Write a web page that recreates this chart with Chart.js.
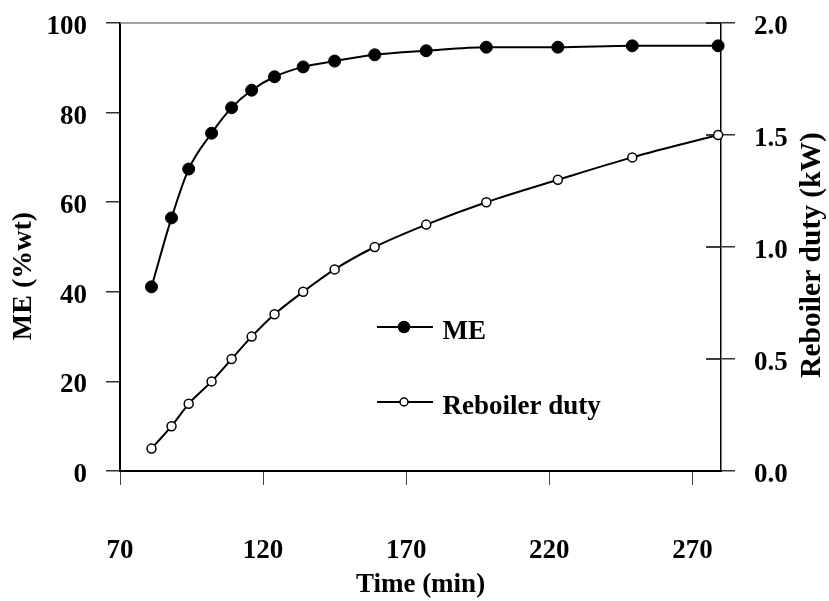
<!DOCTYPE html>
<html><head><meta charset="utf-8">
<script src="https://cdn.jsdelivr.net/npm/chart.js@4.4.1/dist/chart.umd.min.js"></script>
<style>html,body{margin:0;padding:0;background:#fff;}#wrap{width:829px;height:601px;position:relative;}</style>
</head><body><div id="wrap"><canvas id="c"></canvas></div>
<script>
const timeMin = [81, 88, 94, 102, 109, 116, 124, 134, 145, 159, 177, 198, 223, 249, 279];
const meWt = [41.1, 56.5, 67.4, 75.4, 81.1, 85.0, 88.0, 90.2, 91.5, 92.9, 93.8, 94.6, 94.6, 94.9, 94.9];
const reboilerDutyKW = [0.1, 0.2, 0.3, 0.4, 0.5, 0.6, 0.7, 0.8, 0.9, 1.0, 1.1, 1.2, 1.3, 1.4, 1.5];
const xTickValues = [70, 120, 170, 220, 270];
const seriesLabels = ['ME', 'Reboiler duty'];
const xTitle = 'Time (min)';
const yLeftTitle = 'ME (%wt)';
const yRightTitle = 'Reboiler duty (kW)';

const FONT = '"Liberation Serif", "Times New Roman", serif';
const tickFont = {family: FONT, size: 27, weight: 'bold'};
const titleFont = {family: FONT, size: 27, weight: 'bold'};

function legendIcon(filled) {
  const c = document.createElement('canvas');
  c.width = 56; c.height = 27;
  const g = c.getContext('2d');
  g.strokeStyle = '#000'; g.lineWidth = 2;
  g.beginPath(); g.moveTo(0, 8); g.lineTo(56, 8); g.stroke();
  g.beginPath(); g.arc(27, 8, filled ? 5.5 : 4, 0, Math.PI * 2);
  g.fillStyle = filled ? '#000' : '#fff'; g.fill();
  g.lineWidth = 1.5; g.stroke();
  return c;
}
const icons = [legendIcon(true), legendIcon(false)];

const points = (ys) => timeMin.map((t, i) => ({x: t, y: ys[i]}));
const noPad = (s) => { s.paddingTop = 0; s.paddingBottom = 0; s.paddingLeft = 0; s.paddingRight = 0; };

function drawVerticalTitle(ctx, text, cx, cy, size) {
  ctx.save();
  ctx.fillStyle = '#000';
  ctx.font = 'bold ' + size + 'px ' + FONT;
  ctx.textAlign = 'center'; ctx.textBaseline = 'middle';
  ctx.translate(cx, cy);
  ctx.rotate(-Math.PI / 2);
  ctx.fillText(text, 0, 0);
  ctx.restore();
}

const framePlugin = {
  id: 'frame',
  afterLayout(chart) {
    const lg = chart.legend, a = chart.chartArea;
    if (!lg) return;
    const w = lg.width, h = lg.height;
    lg.left = a.left + 213; lg.right = lg.left + w;
    lg.top = a.top + 248; lg.bottom = lg.top + h;
  },
  beforeDatasetsDraw(chart) {
    const {ctx, chartArea: a} = chart;
    const y2 = chart.scales.y2;
    ctx.save();
    ctx.strokeStyle = '#808080'; ctx.lineWidth = 1.5;
    ctx.beginPath(); ctx.moveTo(a.left, a.top); ctx.lineTo(a.right, a.top); ctx.stroke();
    ctx.strokeStyle = '#000'; ctx.lineWidth = 1.5;
    y2.ticks.forEach(t => {
      const py = y2.getPixelForValue(t.value);
      ctx.beginPath(); ctx.moveTo(a.right - 15, py); ctx.lineTo(a.right, py); ctx.stroke();
    });
    ctx.restore();
  },
  afterDraw(chart) {
    const {ctx} = chart;
    const y = chart.scales.y, y2 = chart.scales.y2;
    const mid = (y.top + y.bottom) / 2;
    drawVerticalTitle(ctx, yLeftTitle, y.left + 24, mid + 29, 28);
    drawVerticalTitle(ctx, yRightTitle, y2.right - 16.5, mid + 8, 29.5);
  }
};

new Chart(document.getElementById('c'), {
  type: 'line',
  data: {
    datasets: [
      {
        label: seriesLabels[0], data: points(meWt), yAxisID: 'y',
        borderColor: '#000', borderWidth: 2, backgroundColor: '#000',
        pointRadius: 6, pointBackgroundColor: '#000', pointBorderColor: '#000', pointBorderWidth: 1,
        cubicInterpolationMode: 'monotone', clip: false, fill: false
      },
      {
        label: seriesLabels[1], data: points(reboilerDutyKW), yAxisID: 'y2',
        borderColor: '#000', borderWidth: 2, backgroundColor: '#fff',
        pointRadius: 4.5, pointBackgroundColor: '#fff', pointBorderColor: '#000', pointBorderWidth: 1.5,
        cubicInterpolationMode: 'monotone', clip: false, fill: false
      }
    ]
  },
  options: {
    responsive: true, maintainAspectRatio: false, animation: false, devicePixelRatio: 1,
    layout: {padding: {top: 23, left: 0, right: 0, bottom: 0}},
    plugins: {
      tooltip: {enabled: false},
      legend: {
        position: 'chartArea', align: 'start',
        labels: {
          usePointStyle: true, pointStyleWidth: 48, padding: 48, color: '#000',
          font: {family: FONT, size: 27, weight: 'bold'},
          generateLabels: (chart) => chart.data.datasets.map((ds, i) => ({
            text: ds.label, pointStyle: icons[i], fillStyle: '#000', strokeStyle: '#000',
            lineWidth: 0, hidden: false, datasetIndex: i, fontColor: '#000'
          }))
        }
      }
    },
    scales: {
      x: {
        type: 'linear', position: 'bottom', min: 70, max: 280,
        afterBuildTicks: (s) => { s.ticks = xTickValues.map(v => ({value: v})); },
        afterFit: (s) => { s.height = 130; noPad(s); },
        grid: {display: true, drawOnChartArea: false, drawTicks: true, tickLength: 14, color: '#444', lineWidth: 1},
        border: {display: true, color: '#000', width: 2},
        ticks: {color: '#000', font: tickFont, padding: 50, maxRotation: 0, autoSkip: false},
        title: {display: true, text: xTitle, color: '#000', font: titleFont, padding: {top: 0, bottom: 0}}
      },
      y: {
        type: 'linear', position: 'left', min: 0, max: 100,
        ticks: {stepSize: 20, color: '#000', font: tickFont, padding: 19, labelOffset: 4},
        afterFit: (s) => { s.width = 120; noPad(s); },
        grid: {display: true, drawOnChartArea: false, drawTicks: true, tickLength: 14, color: '#333', lineWidth: 1.5},
        border: {display: true, color: '#000', width: 2},
        title: {display: false, text: yLeftTitle}
      },
      y2: {
        type: 'linear', position: 'right', min: 0, max: 2,
        ticks: {stepSize: 0.5, color: '#000', font: tickFont, padding: 19, labelOffset: 4, callback: (v) => v.toFixed(1)},
        afterFit: (s) => { s.width = 108; noPad(s); },
        grid: {display: true, drawOnChartArea: false, drawTicks: true, tickLength: 14, color: '#333', lineWidth: 1.5},
        border: {display: true, color: '#000', width: 1.5},
        title: {display: false, text: yRightTitle}
      }
    }
  },
  plugins: [framePlugin]
});
</script></body></html>
